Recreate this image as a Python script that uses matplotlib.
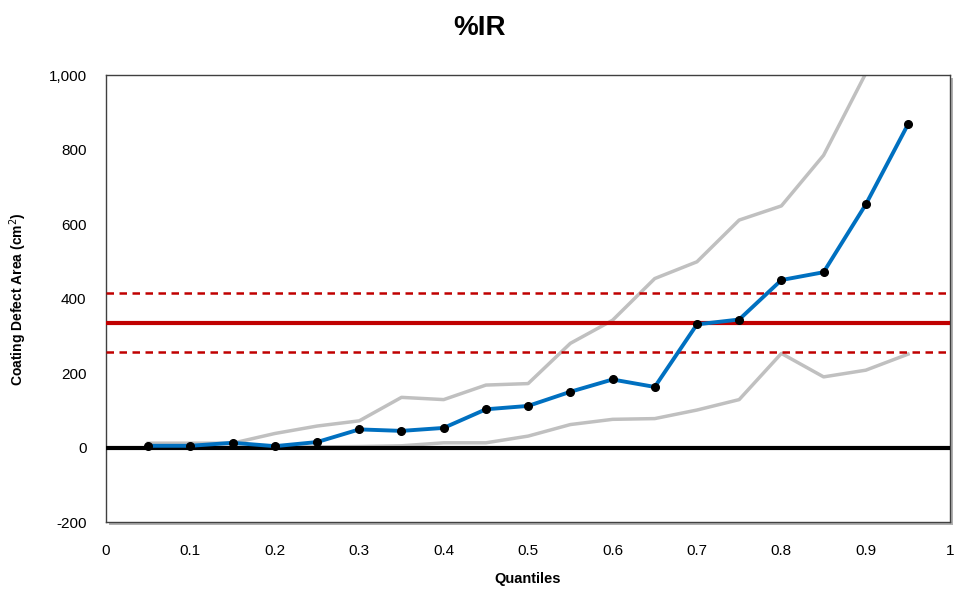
import numpy as np
import matplotlib.pyplot as plt
from matplotlib.patches import Rectangle
from matplotlib.ticker import FuncFormatter

# quantile levels and defect area estimates (cm^2)
quantiles = [0.05, 0.1, 0.15, 0.2, 0.25, 0.3, 0.35, 0.4, 0.45, 0.5,
             0.55, 0.6, 0.65, 0.7, 0.75, 0.8, 0.85, 0.9, 0.95]
estimate = [5, 5, 13, 4, 15, 49, 45, 53, 103, 112,
            150, 183, 163, 331, 344, 450, 471, 653, 868]
upper_bound = [12, 12, 12, 38, 58, 72, 135, 129, 168, 172,
               280, 342, 454, 499, 611, 649, 785, 1005, 1380]
lower_bound = [1, 1, 1, 1, 2, 3, 5, 13, 13, 31,
               62, 76, 78, 101, 129, 253, 190, 208, 251]

# reference level and its band
ref_mean = 336
ref_low = 257
ref_high = 414

plt.rcParams['font.family'] = ['Liberation Sans', 'DejaVu Sans']

fig = plt.figure(figsize=(9.55, 5.92), dpi=100)
ax = fig.add_axes([0.111, 0.118, 0.884, 0.755])
ax.set_zorder(1)

# drop shadow behind the plot area
dx, dy = 3 / 955, 3 / 592
shadow = Rectangle((0.111 + dx, 0.118 - dy), 0.884, 0.755, transform=fig.transFigure,
                   facecolor='#b0b0b0', edgecolor='none', zorder=-1)
fig.patches.append(shadow)
ax.set_facecolor('white')

ax.plot(quantiles, upper_bound, color='#c0c0c0', lw=2.5, zorder=2)
ax.plot(quantiles, lower_bound, color='#c0c0c0', lw=2.5, zorder=2)

ax.axhline(0, color='black', lw=3, zorder=3)
ax.axhline(ref_mean, color='#c00000', lw=3, zorder=3)
ax.axhline(ref_high, color='#c00000', lw=1.8, ls=(0, (3, 2.2)), zorder=3)
ax.axhline(ref_low, color='#c00000', lw=1.8, ls=(0, (3, 2.2)), zorder=3)

ax.plot(quantiles, estimate, color='#0070c0', lw=2.8, zorder=4)
ax.plot(quantiles, estimate, 'o', color='black', ms=5.5, zorder=5)

ax.set_xlim(0, 1)
ax.set_ylim(-200, 1000)
ax.set_xticks(np.arange(0, 1.01, 0.1))
ax.set_yticks(np.arange(-200, 1001, 200))
ax.xaxis.set_major_formatter(FuncFormatter(lambda v, p: f'{v:g}'))
ax.yaxis.set_major_formatter(FuncFormatter(lambda v, p: f'{v:,.0f}'))
ax.tick_params(length=0, labelsize=11)
ax.tick_params(axis='x', pad=16)
ax.tick_params(axis='y', pad=14)

for s in ax.spines.values():
    s.set_color('#404040')
    s.set_linewidth(1)

ax.set_xlabel('Quantiles', fontsize=10.5, fontweight='bold', labelpad=10)
ax.set_ylabel('Coating Defect Area (cm$^2$)', fontsize=10, fontweight='bold', labelpad=14)
fig.suptitle('%IR', x=0.502, y=0.975, fontsize=20, fontweight='bold')

fig.savefig('out.png', dpi=100)
